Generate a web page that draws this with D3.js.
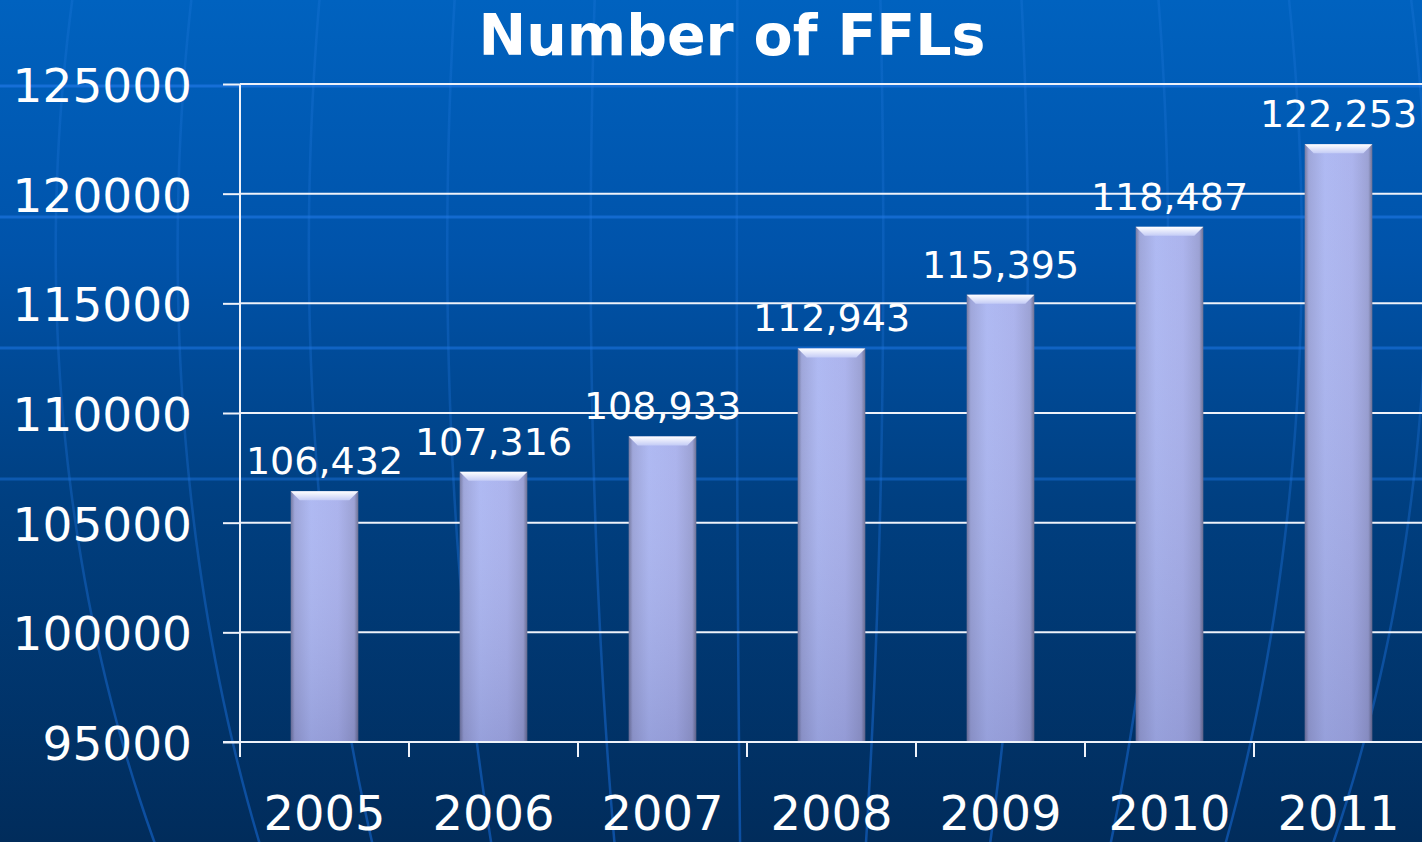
<!DOCTYPE html>
<html>
<head>
<meta charset="utf-8">
<script src="https://cdn.jsdelivr.net/npm/d3@7"></script>
<style>
  html, body { margin: 0; padding: 0; background: #003f82; overflow: hidden; }
  text { font-family: "DejaVu Sans", Verdana, sans-serif; fill: #fff; }
</style>
</head>
<body>
<div id="graph_draw"></div>
<script>
// chart data
var years = ["2005", "2006", "2007", "2008", "2009", "2010", "2011"];
var ffls = [106432, 107316, 108933, 112943, 115395, 118487, 122253];
var yTicks = [95000, 100000, 105000, 110000, 115000, 120000, 125000];
var title = "Number of FFLs";

var W = 1422, H = 842;
var margin = {top: 84, right: 0, bottom: 100, left: 240};

var svg = d3.select("#graph_draw").append("svg")
    .attr("width", W)
    .attr("height", H);

var defs = svg.append("defs");

// background gradient
var bg = defs.append("linearGradient").attr("id", "bg")
    .attr("x1", 0).attr("y1", 0).attr("x2", 0).attr("y2", 1);
bg.append("stop").attr("offset", "0").attr("stop-color", "#0062bf");
bg.append("stop").attr("offset", "0.3").attr("stop-color", "#0053aa");
bg.append("stop").attr("offset", "0.6").attr("stop-color", "#003f80");
bg.append("stop").attr("offset", "1").attr("stop-color", "#012c5b");

// meridian stroke, faint at the top
var mer = defs.append("linearGradient").attr("id", "mer")
    .attr("gradientUnits", "userSpaceOnUse")
    .attr("x1", 0).attr("y1", 0).attr("x2", 0).attr("y2", H);
mer.append("stop").attr("offset", "0").attr("stop-color", "#2a80e6").attr("stop-opacity", 0.22);
mer.append("stop").attr("offset", "0.5").attr("stop-color", "#1f74dc").attr("stop-opacity", 0.32);
mer.append("stop").attr("offset", "1").attr("stop-color", "#1466d0").attr("stop-opacity", 0.6);

// bar body: horizontal shading
var barH = defs.append("linearGradient").attr("id", "barH")
    .attr("x1", 0).attr("y1", 0).attr("x2", 1).attr("y2", 0);
barH.append("stop").attr("offset", "0").attr("stop-color", "#6e739c");
barH.append("stop").attr("offset", "0.06").attr("stop-color", "#9aa2d8");
barH.append("stop").attr("offset", "0.3").attr("stop-color", "#abb6f2");
barH.append("stop").attr("offset", "0.7").attr("stop-color", "#a8b0ec");
barH.append("stop").attr("offset", "0.94").attr("stop-color", "#979dd2");
barH.append("stop").attr("offset", "1").attr("stop-color", "#666a8e");

// bar darkening toward the bottom
var barV = defs.append("linearGradient").attr("id", "barV")
    .attr("x1", 0).attr("y1", 0).attr("x2", 0).attr("y2", 1);
barV.append("stop").attr("offset", "0").attr("stop-color", "#ffffff").attr("stop-opacity", 0.05);
barV.append("stop").attr("offset", "1").attr("stop-color", "#2a2c60").attr("stop-opacity", 0.16);

// bevel cap
var cap = defs.append("linearGradient").attr("id", "cap")
    .attr("x1", 0).attr("y1", 0).attr("x2", 0).attr("y2", 1);
cap.append("stop").attr("offset", "0").attr("stop-color", "#ffffff");
cap.append("stop").attr("offset", "1").attr("stop-color", "#c4ccf6");

svg.append("rect").attr("width", W).attr("height", H).attr("fill", "url(#bg)");

// globe decoration: latitude bands and meridians
var deco = svg.append("g");
var latY = [86, 217, 348, 479];
deco.selectAll("line.lat").data(latY).enter().append("line")
    .attr("x1", 0).attr("x2", W)
    .attr("y1", function(d) { return d; }).attr("y2", function(d) { return d; })
    .attr("stroke", "#1a72dc")
    .attr("stroke-opacity", function(d, i) { return 0.85 - i * 0.12; })
    .attr("stroke-width", 3);

var gcx = 760, gcy = 250, gR = 1160;
var lons = d3.range(-5, 6).map(function(k) { return -0.02 + k * 0.1265; });
var meridian = d3.line().curve(d3.curveBasis);
deco.selectAll("path.mer").data(lons).enter().append("path")
    .attr("d", function(lon) {
        var pts = d3.range(-20, H + 21, 20).map(function(y) {
            var s = (gcy - y) / gR;
            var c = Math.sqrt(Math.max(0, 1 - s * s));
            return [gcx + gR * Math.sin(lon) * c, y];
        });
        return meridian(pts);
    })
    .attr("fill", "none")
    .attr("stroke", "url(#mer)")
    .attr("stroke-width", 2.5);

// scales
var x = d3.scaleBand().domain(years)
    .range([margin.left, margin.left + 7 * 169])
    .paddingInner(0.6).paddingOuter(0.3);
var y = d3.scaleLinear().domain([95000, 125000])
    .range([742, margin.top]);

// gridlines
svg.append("g").selectAll("line").data(yTicks.slice(1)).enter().append("line")
    .attr("x1", margin.left).attr("x2", W)
    .attr("y1", function(d) { return y(d); }).attr("y2", function(d) { return y(d); })
    .attr("stroke", "#eef2fa").attr("stroke-width", 2);

// y axis (stubs + labels)
var yAxis = svg.append("g")
    .attr("transform", "translate(" + margin.left + ",0)")
    .call(d3.axisLeft(y).tickValues(yTicks).tickSize(17).tickPadding(31).tickFormat(d3.format("d")));
yAxis.select(".domain").remove();
yAxis.selectAll(".tick line").attr("stroke", "#eef2fa").attr("stroke-width", 2);
yAxis.selectAll(".tick text")
    .attr("font-size", 47)
    .attr("dy", "0.37em")
    .attr("fill", "#fff");

// bars
var bars = svg.append("g").selectAll("g.bar").data(ffls).enter().append("g");
bars.append("rect")
    .attr("x", function(d, i) { return x(years[i]); })
    .attr("y", function(d) { return y(d); })
    .attr("width", x.bandwidth())
    .attr("height", function(d) { return y(95000) - y(d); })
    .attr("fill", "url(#barH)");
bars.append("rect")
    .attr("x", function(d, i) { return x(years[i]); })
    .attr("y", function(d) { return y(d); })
    .attr("width", x.bandwidth())
    .attr("height", function(d) { return y(95000) - y(d); })
    .attr("fill", "url(#barV)");
bars.append("path")
    .attr("d", function(d, i) {
        var x0 = x(years[i]), x1 = x0 + x.bandwidth(), t = y(d), b = 9;
        return "M" + x0 + "," + t + "L" + x1 + "," + t + "L" + (x1 - b) + "," + (t + b) +
               "L" + (x0 + b) + "," + (t + b) + "Z";
    })
    .attr("fill", "url(#cap)");

// value labels
bars.append("text")
    .attr("x", function(d, i) { return x(years[i]) + x.bandwidth() / 2; })
    .attr("y", function(d) { return y(d) - 17; })
    .attr("text-anchor", "middle")
    .attr("font-size", 38)
    .text(function(d) { return d3.format(",")(d); });

// y axis line and x axis
svg.append("line")
    .attr("x1", margin.left).attr("x2", margin.left)
    .attr("y1", margin.top).attr("y2", 757)
    .attr("stroke", "#eef2fa").attr("stroke-width", 2);
svg.append("line")
    .attr("x1", margin.left - 17).attr("x2", W)
    .attr("y1", y(95000)).attr("y2", y(95000))
    .attr("stroke", "#eef2fa").attr("stroke-width", 2);
svg.append("g").selectAll("line").data(years).enter().append("line")
    .attr("x1", function(d) { return x(d) - x.step() * 0.3; })
    .attr("x2", function(d) { return x(d) - x.step() * 0.3; })
    .attr("y1", y(95000)).attr("y2", 757)
    .attr("stroke", "#eef2fa").attr("stroke-width", 2);

// x labels
svg.append("g").selectAll("text").data(years).enter().append("text")
    .attr("x", function(d) { return x(d) + x.bandwidth() / 2; })
    .attr("y", 830)
    .attr("text-anchor", "middle")
    .attr("font-size", 48)
    .text(function(d) { return d; });

// title
svg.append("text")
    .attr("x", 732).attr("y", 55)
    .attr("text-anchor", "middle")
    .attr("font-size", 57)
    .attr("font-weight", "bold")
    .text(title);
</script>
</body>
</html>
